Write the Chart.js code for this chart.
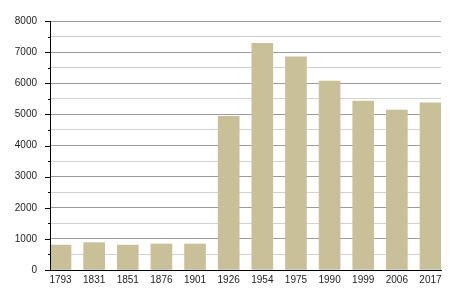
<!DOCTYPE html>
<html><head><meta charset="utf-8">
<script src="https://cdn.jsdelivr.net/npm/chart.js@4/dist/chart.umd.min.js"></script>
<style>html,body{margin:0;padding:0;background:#fff}#w{width:450px;height:300px}</style>
</head><body><div id="w"><canvas id="c" width="450" height="300"></canvas></div>
<script>
const categories = ["1793","1831","1851","1876","1901","1926","1954","1975","1990","1999","2006","2017"];
const population = [800, 880, 800, 835, 835, 4940, 7280, 6850, 6070, 5430, 5140, 5370];
const yTicks = [0,1000,2000,3000,4000,5000,6000,7000,8000];

const points = population.map((v,i)=>({x:i,y:v}));

const tickPlugin = {
  id:'tickMarks',
  afterDraw(chart){
    const ys = chart.scales.y, ctx = chart.ctx;
    const x0 = chart.chartArea.left;
    ctx.save();
    ctx.strokeStyle = '#000';
    ctx.lineWidth = 1;
    ys.ticks.forEach(t=>{
      const y = Math.round(ys.getPixelForValue(t.value))+0.5;
      const len = (t.value % 1000 === 0) ? 5 : 2;
      ctx.beginPath(); ctx.moveTo(x0-len, y); ctx.lineTo(x0, y); ctx.stroke();
    });
    ctx.beginPath(); ctx.moveTo(Math.round(x0)+0.5, chart.chartArea.top); ctx.lineTo(Math.round(x0)+0.5, chart.chartArea.bottom); ctx.stroke();
    ctx.restore();
  }
};

new Chart(document.getElementById('c'), {
  type:'bar',
  data:{datasets:[{data:points, backgroundColor:'#c9bf98', barThickness:21, borderWidth:0}]},
  options:{
    responsive:false, animation:false,
    layout:{padding:{top:21,right:9,left:0,bottom:0}},
    plugins:{legend:{display:false}, tooltip:{enabled:false}},
    scales:{
      x:{type:'linear', offset:false, min:-0.3125, max:11.3125,
         afterBuildTicks(s){ s.ticks = categories.map((c,i)=>({value:i})); },
         afterFit(s){ s.height = 30; },
         ticks:{callback:(v)=>categories[v] ?? '', color:'#222', font:{family:'Liberation Sans', size:10}, padding:4, maxRotation:0, autoSkip:false},
         grid:{display:false, drawTicks:false},
         border:{display:true, color:'#000', width:1}},
      y:{min:0, max:8000,
         afterBuildTicks(s){ const t=[]; for(let v=0; v<=8000; v+=500) t.push({value:v}); s.ticks=t; },
         afterFit(s){ s.width = 50; },
         ticks:{callback:(v)=> yTicks.includes(v) ? String(v) : '', color:'#222', font:{family:'Liberation Sans', size:10}, padding:13},
         grid:{drawTicks:false, color:(c)=> (c.tick && c.tick.value % 1000 === 0) ? '#9a9a9a' : '#d0d0d0', lineWidth:1},
         border:{display:false}}
    }
  },
  plugins:[tickPlugin]
});
</script></body></html>
